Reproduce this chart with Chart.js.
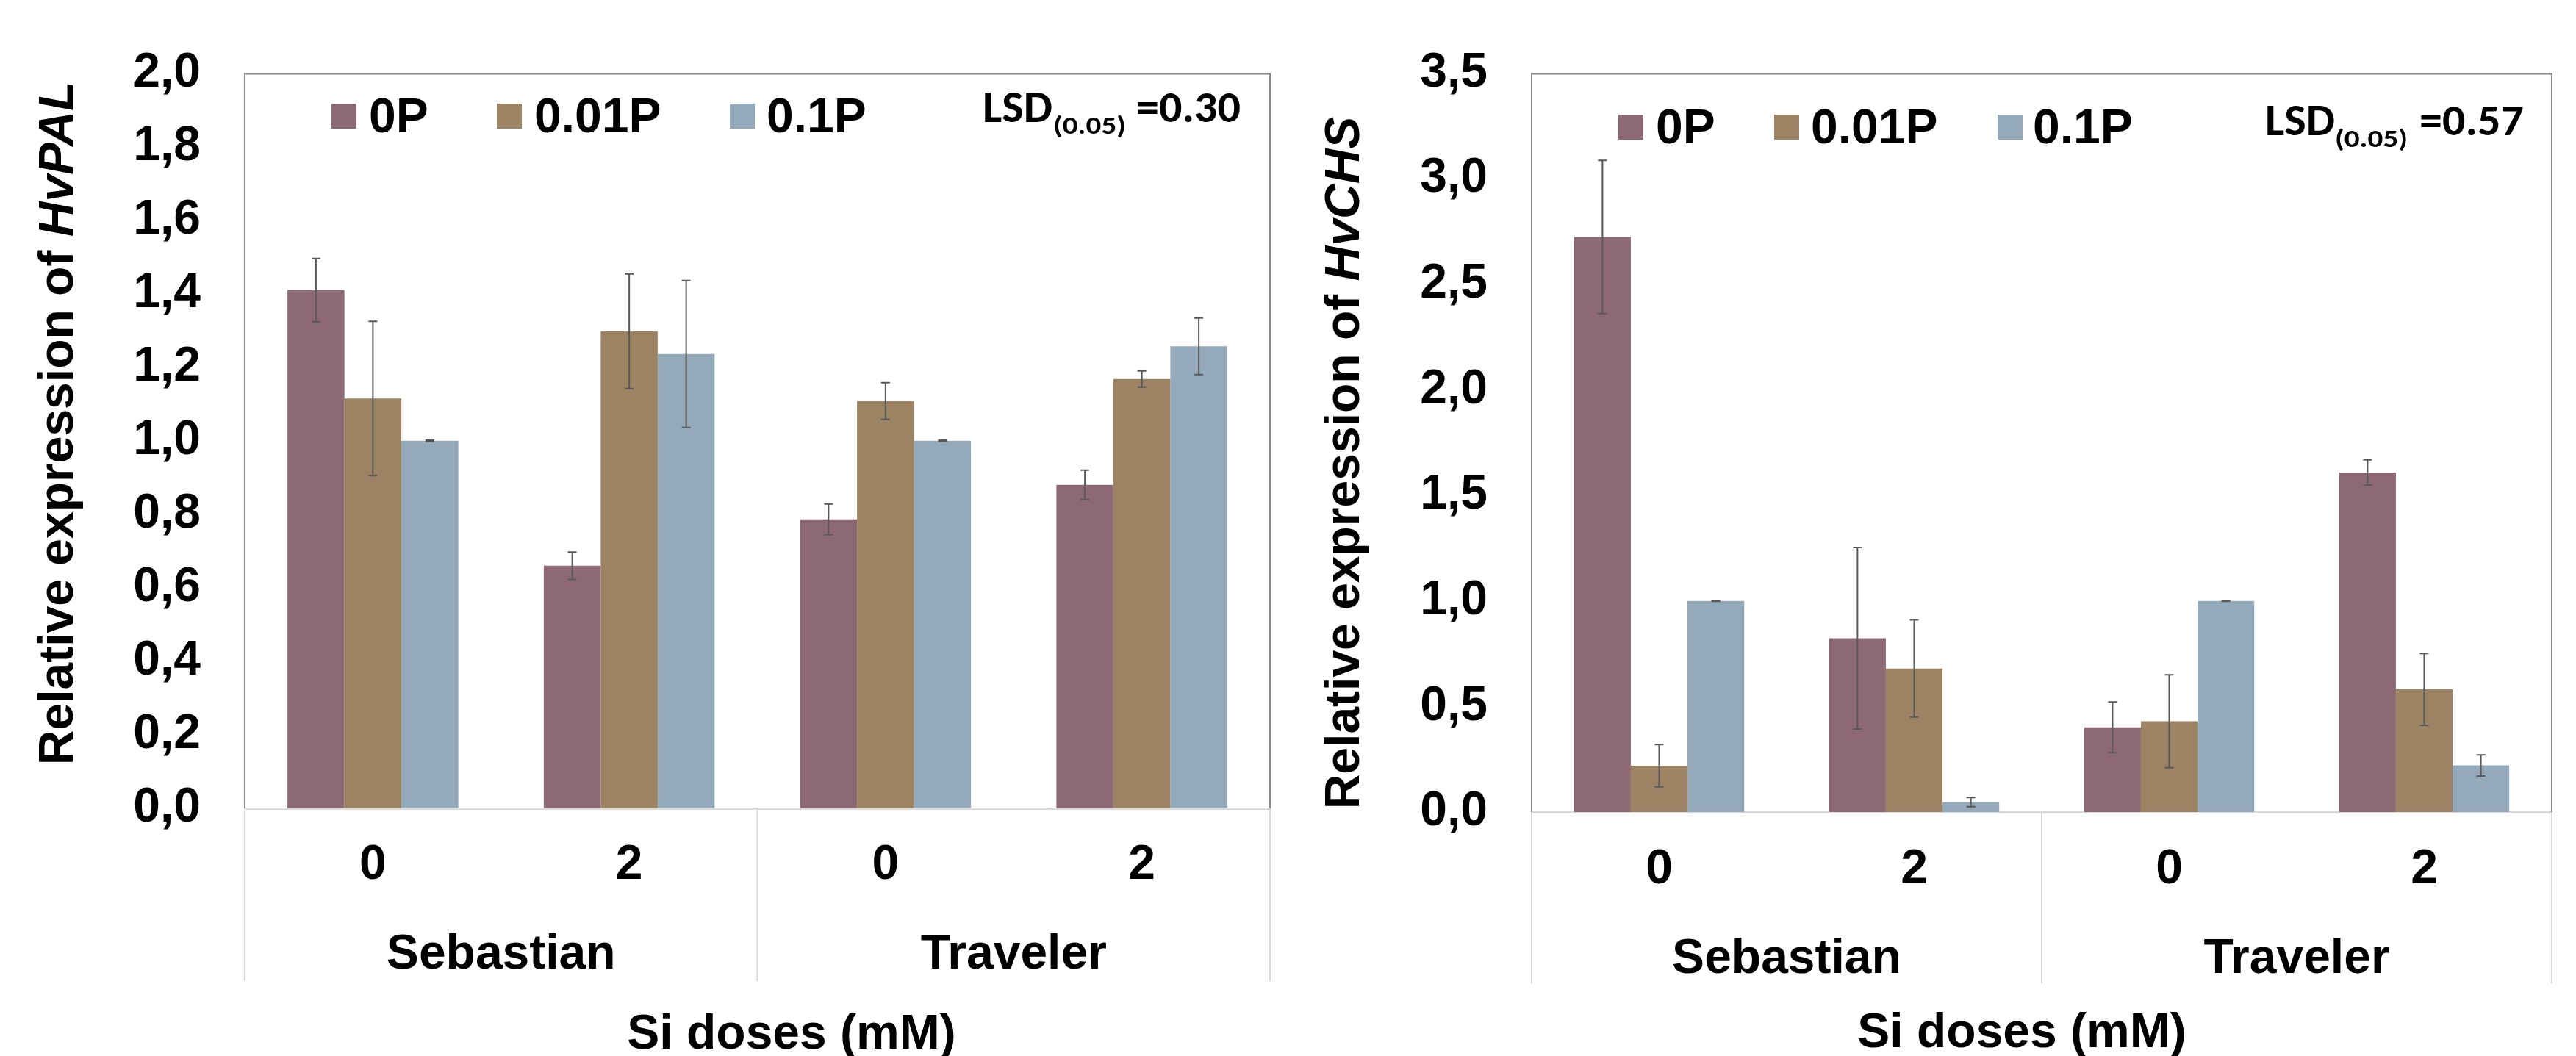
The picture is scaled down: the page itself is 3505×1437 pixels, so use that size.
<!DOCTYPE html>
<html>
<head>
<meta charset="utf-8">
<title>HvPAL and HvCHS relative expression</title>
<script src="https://cdn.jsdelivr.net/npm/chart.js@4.4.1/dist/chart.umd.min.js"></script>
<style>
  html, body { margin: 0; padding: 0; background: #ffffff; }
  body { width: 3505px; height: 1437px; position: relative; overflow: hidden; }
  canvas { position: absolute; top: 0; }
  #pal { left: 0; width: 1750px; height: 1437px; }
  #chs { left: 1750px; width: 1755px; height: 1437px; }
</style>
</head>
<body>
<canvas id="pal" width="1750" height="1437"></canvas>
<canvas id="chs" width="1755" height="1437"></canvas>
<script>
// ---- shared categories and series ----
const doses = ['0', '2', '0', '2'];
const cultivars = ['Sebastian', 'Traveler'];
const seriesNames = ['0P', '0.01P', '0.1P'];
const seriesColors = ['#8D6A73', '#9C8363', '#94AABA'];
const xTitle = 'Si doses (mM)';
const yTitleLead = 'Relative expression of ';

// ---- HvPAL ----
const palGene = 'HvPAL';
const palLsd = '=0.30';
const palTicks = ['0,0', '0,2', '0,4', '0,6', '0,8', '1,0', '1,2', '1,4', '1,6', '1,8', '2,0'];
const pal0P    = [1.41, 0.66, 0.786, 0.88];
const pal001P  = [1.115, 1.298, 1.108, 1.168];
const pal01P   = [1.00, 1.236, 1.00, 1.257];
const palErr0P   = [0.086, 0.037, 0.042, 0.040];
const palErr001P = [0.21, 0.156, 0.05, 0.022];
const palErr01P  = [0.002, 0.20, 0.002, 0.077];

// ---- HvCHS ----
const chsGene = 'HvCHS';
const chsLsd = '=0.57';
const chsTicks = ['0,0', '0,5', '1,0', '1,5', '2,0', '2,5', '3,0', '3,5'];
const chs0P    = [2.724, 0.823, 0.401, 1.608];
const chs001P  = [0.219, 0.680, 0.430, 0.581];
const chs01P   = [1.00, 0.047, 1.00, 0.221];
const chsErr0P   = [0.363, 0.43, 0.12, 0.06];
const chsErr001P = [0.10, 0.23, 0.22, 0.17];
const chsErr01P  = [0.002, 0.022, 0.002, 0.05];

const FONT = "'Liberation Sans', Arial, Helvetica, sans-serif";
const NOTE_FONT = "Carlito, Calibri, Lato, sans-serif";
const FRAME = '#8a8a8a';
const BOX = '#d9d9d9';
const ERR = '#595959';

// draw text into a box: given width and the height of a reference glyph above the baseline
function fitBox(ctx, text, x, y, w, h, refGlyph) {
  ctx.font = `bold 100px ${NOTE_FONT}`;
  const mw = ctx.measureText(text).width;
  const mh = ctx.measureText(refGlyph).actualBoundingBoxAscent;
  ctx.save();
  ctx.translate(x, y);
  ctx.scale(w / mw, h / mh);
  ctx.fillText(text, 0, 0);
  ctx.restore();
}

// frame, category box, error bars and annotation text
const decor = {
  id: 'decor',
  beforeDatasetsDraw(chart, args, o) {
    const { ctx, chartArea: a } = chart;
    const xs = chart.scales.x;
    ctx.save();
    ctx.lineWidth = 2;
    ctx.strokeStyle = FRAME;
    ctx.beginPath();
    ctx.moveTo(a.left, a.top + 1);
    ctx.lineTo(a.right, a.top + 1);
    ctx.lineTo(a.right, a.bottom);
    ctx.stroke();
    // boundaries of the cultivar groups, extending below the axis
    const per = doses.length / cultivars.length;
    const half = (xs.getPixelForValue(1) - xs.getPixelForValue(0)) / 2;
    ctx.strokeStyle = BOX;
    for (let g = 0; g <= cultivars.length; g++) {
      let px;
      if (g === 0) px = xs.getPixelForValue(0) - half;
      else if (g === cultivars.length) px = xs.getPixelForValue(doses.length - 1) + half;
      else px = (xs.getPixelForValue(g * per - 1) + xs.getPixelForValue(g * per)) / 2;
      ctx.beginPath();
      ctx.moveTo(px, a.bottom);
      ctx.lineTo(px, o.boxBottom);
      ctx.stroke();
    }
    ctx.restore();
  },
  afterDatasetsDraw(chart) {
    const { ctx } = chart;
    const ys = chart.scales.y;
    ctx.save();
    ctx.strokeStyle = ERR;
    ctx.lineWidth = 2;
    chart.data.datasets.forEach((ds, i) => {
      const meta = chart.getDatasetMeta(i);
      meta.data.forEach((bar, j) => {
        const v = ds.data[j], e = ds.errors[j];
        const y1 = ys.getPixelForValue(v + e), y2 = ys.getPixelForValue(v - e);
        ctx.beginPath();
        ctx.moveTo(bar.x, y1); ctx.lineTo(bar.x, y2);
        ctx.moveTo(bar.x - 6, y1); ctx.lineTo(bar.x + 6, y1);
        ctx.moveTo(bar.x - 6, y2); ctx.lineTo(bar.x + 6, y2);
        ctx.stroke();
      });
    });
    ctx.restore();
  },
  afterDraw(chart, args, o) {
    const { ctx } = chart;
    const xs = chart.scales.x;
    ctx.save();
    ctx.fillStyle = '#000';
    // legend
    ctx.font = `bold 66px ${FONT}`;
    ctx.textAlign = 'left';
    ctx.textBaseline = 'alphabetic';
    seriesNames.forEach((name, i) => {
      ctx.fillStyle = seriesColors[i];
      ctx.fillRect(o.legendBoxX[i], o.legendBoxTop, 34, 34);
      ctx.fillStyle = '#000';
      ctx.fillText(name, o.legendTextX[i], o.legendBase);
    });
    // LSD note
    fitBox(ctx, 'LSD', o.lsdX[0], o.lsdBase, 95, 39, 'L');
    fitBox(ctx, '(0.05)', o.lsdX[1], o.lsdBase + 16, 99, 22, '0');
    fitBox(ctx, o.lsd, o.lsdX[2], o.lsdBase, 142, 40, '0');
    // cultivar labels under their dose pairs
    const per = doses.length / cultivars.length;
    ctx.font = `bold 66px ${FONT}`;
    ctx.textAlign = 'center';
    cultivars.forEach((c, g) => {
      const cx = (xs.getPixelForValue(g * per) + xs.getPixelForValue(g * per + per - 1)) / 2;
      ctx.fillText(c, cx, o.groupBase);
    });
    // x title
    ctx.fillText(xTitle, o.xTitleX, o.xTitleBase);
    // y title with the gene name in italics
    ctx.translate(o.yTitleX, o.yTitleY);
    ctx.rotate(-Math.PI / 2);
    ctx.textBaseline = 'middle';
    ctx.textAlign = 'left';
    const f1 = `bold 66px ${FONT}`, f2 = `italic bold 66px ${FONT}`;
    ctx.font = f1; const w1 = ctx.measureText(yTitleLead).width;
    ctx.font = f2; const w2 = ctx.measureText(o.gene).width;
    const sx = -(w1 + w2) / 2;
    ctx.font = f1; ctx.fillText(yTitleLead, sx, 0);
    ctx.font = f2; ctx.fillText(o.gene, sx + w1, 0);
    ctx.restore();
  }
};

function build(id, p) {
  const datasets = p.series.map((d, i) => ({
    label: seriesNames[i],
    data: d,
    errors: p.errors[i],
    backgroundColor: seriesColors[i],
    borderWidth: 0,
    categoryPercentage: 0.6667,
    barPercentage: 1.0
  }));
  return new Chart(document.getElementById(id), {
    type: 'bar',
    data: { labels: doses, datasets },
    plugins: [decor],
    options: {
      responsive: false,
      animation: false,
      devicePixelRatio: 1,
      layout: { padding: { left: 0, right: p.padRight, top: p.top, bottom: 0 } },
      plugins: {
        legend: { display: false },
        tooltip: { enabled: false },
        decor: p.decor
      },
      scales: {
        x: {
          type: 'category',
          grid: { display: false, drawTicks: false },
          border: { display: true, color: BOX, width: 3 },
          ticks: {
            color: '#000', padding: p.xPad, maxRotation: 0, autoSkip: false,
            font: { family: FONT, size: 66, weight: 'bold' }
          },
          afterFit: s => { s.height = p.xHeight; }
        },
        y: {
          min: 0, max: p.max,
          grid: { display: false, drawTicks: false },
          border: { display: true, color: FRAME, width: 2 },
          ticks: {
            stepSize: p.step, color: '#000', padding: 60,
            font: { family: FONT, size: 66, weight: 'bold' },
            callback: (v, i) => p.ticks[i]
          },
          afterFit: s => { s.width = p.yWidth; }
        }
      }
    }
  });
}

build('pal', {
  series: [pal0P, pal001P, pal01P],
  errors: [palErr0P, palErr001P, palErr01P],
  ticks: palTicks, max: 2.0, step: 0.2,
  top: 71, padRight: 22, xHeight: 337, yWidth: 333, xPad: 38,
  decor: {
    gene: palGene, lsd: palLsd, boxBottom: 1335,
    legendBoxX: [451, 676, 993], legendTextX: [502, 727, 1043],
    legendBoxTop: 141, legendBase: 180,
    lsdX: [1337, 1433, 1546], lsdBase: 166,
    groupBase: 1318, xTitleX: 1077, xTitleBase: 1427,
    yTitleX: 81, yTitleY: 576
  }
});

build('chs', {
  series: [chs0P, chs001P, chs01P],
  errors: [chsErr0P, chsErr001P, chsErr01P],
  ticks: chsTicks, max: 3.5, step: 0.5,
  top: 85, padRight: 33, xHeight: 332, yWidth: 334, xPad: 39,
  decor: {
    gene: chsGene, lsd: chsLsd, boxBottom: 1338,
    legendBoxX: [452, 664, 968], legendTextX: [503, 714, 1016],
    legendBoxTop: 156, legendBase: 195,
    lsdX: [1332, 1427, 1542], lsdBase: 184,
    groupBase: 1324, xTitleX: 1001, xTitleBase: 1425,
    yTitleX: 81, yTitleY: 630
  }
});
</script>
</body>
</html>
